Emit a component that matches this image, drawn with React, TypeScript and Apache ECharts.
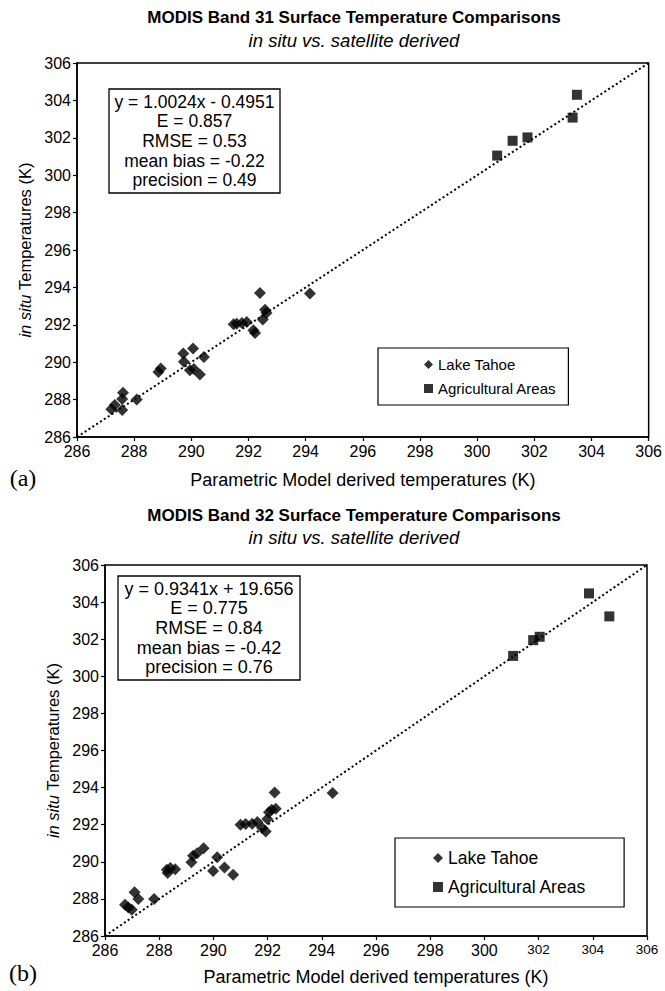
import React, { useEffect, useRef } from 'react';
import * as echarts from 'echarts';

const FONT = '"Liberation Sans", Arial, Helvetica, sans-serif';
const SERIF = '"Liberation Serif", "Times New Roman", serif';

// axis range
const axisMin = 286;
const axisMax = 306;
const axisStep = 2;
const oneToOne = [286, 306];

// texts
const titleB31 = 'MODIS Band 31 Surface Temperature Comparisons';
const titleB32 = 'MODIS Band 32 Surface Temperature Comparisons';
const subTitle = 'in situ vs. satellite derived';
const xAxisName = 'Parametric Model derived temperatures (K)';
const yAxisName = '{i|in situ} Temperatures (K)';
const seriesNames = ['Lake Tahoe', 'Agricultural Areas'];
const panelLabels = ['(a)', '(b)'];
const statsB31 = ['y = 1.0024x - 0.4951', 'E = 0.857', 'RMSE = 0.53', 'mean bias = -0.22', 'precision = 0.49'];
const statsB32 = ['y = 0.9341x + 19.656', 'E = 0.775', 'RMSE = 0.84', 'mean bias = -0.42', 'precision = 0.76'];

// Band 31 data
const lakeX31 = [287.2, 287.32, 287.61, 287.58, 287.58, 288.09, 288.85, 288.93, 289.72, 289.74, 290.06, 289.95, 290.09, 290.3, 290.44, 291.48, 291.59, 291.77, 291.94, 292.17, 292.23, 292.4, 292.58, 292.63, 292.5, 294.15];
const lakeY31 = [287.48, 287.71, 288.36, 288.03, 287.44, 288.01, 289.48, 289.66, 290.46, 290.02, 290.73, 289.57, 289.63, 289.34, 290.28, 292.03, 292.06, 292.1, 292.15, 291.71, 291.56, 293.7, 292.81, 292.63, 292.28, 293.68];
const agriX31 = [300.7, 301.24, 301.76, 303.34, 303.49];
const agriY31 = [301.05, 301.84, 302.02, 303.08, 304.3];

// Band 32 data
const lakeX32 = [286.74, 286.86, 286.99, 287.09, 287.23, 287.81, 288.28, 288.31, 288.41, 288.59, 289.19, 289.25, 289.4, 289.64, 289.99, 290.14, 290.41, 290.73, 291.0, 291.19, 291.43, 291.62, 291.8, 291.93, 291.99, 292.05, 292.15, 292.3, 292.26, 294.4];
const lakeY32 = [287.68, 287.53, 287.41, 288.36, 288.0, 288.0, 289.57, 289.39, 289.66, 289.6, 289.98, 290.32, 290.46, 290.73, 289.51, 290.25, 289.69, 289.3, 292.0, 292.04, 292.05, 292.14, 291.82, 291.63, 292.31, 292.67, 292.81, 292.86, 293.74, 293.71];
const agriX32 = [301.06, 301.8, 302.04, 303.86, 304.61];
const agriY32 = [301.1, 301.95, 302.13, 304.47, 303.23];

const zip = (xs: number[], ys: number[]) => xs.map((x, i) => [x, ys[i]]);

function buildOption() {
  const axisLine = { lineStyle: { color: '#000', width: 1.5 } };
  const axisTick = { show: true, inside: false, length: 4, lineStyle: { color: '#000', width: 1.2 } };
  const xAxis = (gridIndex: number, nameGap: number, nameSize: number, smallHigh: boolean) => ({
    type: 'value',
    gridIndex,
    min: axisMin,
    max: axisMax,
    interval: axisStep,
    axisLine,
    axisTick,
    splitLine: { show: false },
    axisLabel: {
      color: '#000',
      fontFamily: FONT,
      fontSize: 16,
      margin: 6,
      formatter: (v: number) => (smallHigh && v >= 302 ? `{s|${v}}` : `${v}`),
      rich: { s: { fontSize: 13.5, fontFamily: FONT, color: '#000' } },
    },
    name: xAxisName,
    nameLocation: 'middle',
    nameGap,
    nameTextStyle: { color: '#000', fontFamily: FONT, fontSize: nameSize },
  });
  const yAxis = (gridIndex: number, nameGap: number) => ({
    type: 'value',
    gridIndex,
    min: axisMin,
    max: axisMax,
    interval: axisStep,
    axisLine,
    axisTick,
    splitLine: { show: false },
    axisLabel: { color: '#000', fontFamily: FONT, fontSize: 16, margin: 6 },
    name: yAxisName,
    nameLocation: 'middle',
    nameGap,
    nameRotate: 90,
    nameTextStyle: {
      color: '#000',
      fontFamily: FONT,
      fontSize: 16.5,
      rich: { i: { fontStyle: 'italic', fontFamily: FONT, fontSize: 16.5, color: '#000' } },
    },
  });
  const lake = (idx: number, data: number[][]) => ({
    type: 'scatter',
    name: seriesNames[0],
    xAxisIndex: idx,
    yAxisIndex: idx,
    symbol: 'diamond',
    symbolSize: 12,
    itemStyle: { color: '#000' },
    data,
    z: 3,
  });
  const agri = (idx: number, data: number[][]) => ({
    type: 'scatter',
    name: seriesNames[1],
    xAxisIndex: idx,
    yAxisIndex: idx,
    symbol: 'rect',
    symbolSize: 10,
    itemStyle: { color: '#000' },
    data,
    z: 3,
  });
  const diag = (idx: number) => ({
    type: 'line',
    name: '1:1',
    xAxisIndex: idx,
    yAxisIndex: idx,
    symbol: 'none',
    lineStyle: { color: '#000', width: 2, type: [2, 2.6] },
    data: zip(oneToOne, oneToOne),
    z: 2,
    silent: true,
  });
  const legend = (left: number, top: number, padding: number[], fontSize: number, icon: number, gap: number) => ({
    left,
    top,
    orient: 'vertical',
    padding,
    itemGap: gap,
    itemWidth: icon,
    itemHeight: icon,
    selectedMode: false,
    borderColor: '#000',
    borderWidth: 1.2,
    backgroundColor: '#fff',
    textStyle: { color: '#000', fontFamily: FONT, fontSize },
    data: seriesNames,
  });
  const text = (t: string, x: number, y: number, font: string, extra: any = {}) => ({
    type: 'text',
    z: 10,
    style: {
      text: t,
      x,
      y,
      font,
      fill: '#000',
      textAlign: 'center',
      textVerticalAlign: 'middle',
      align: 'center',
      verticalAlign: 'middle',
      ...extra,
    },
  });
  const statsBox = (x: number, y: number, w: number, h: number, lines: string[], size: number) => [
    {
      type: 'rect',
      z: 10,
      shape: { x, y, width: w, height: h },
      style: { fill: '#fff', stroke: '#000', lineWidth: 1.3 },
    },
    text(lines.join('\n'), x + w / 2, y + h / 2, `${size}px ${FONT}`, { lineHeight: 19.6 }),
  ];

  return {
    animation: false,
    backgroundColor: '#fff',
    grid: [
      { left: 77, top: 63, width: 578, height: 374, show: true, borderColor: '#000', borderWidth: 1.5, backgroundColor: 'transparent' },
      { left: 105, top: 565, width: 542, height: 371, show: true, borderColor: '#000', borderWidth: 1.5, backgroundColor: 'transparent' },
    ],
    xAxis: [xAxis(0, 34, 18, false), xAxis(1, 32, 18, true)],
    yAxis: [yAxis(0, 43), yAxis(1, 44)],
    legend: [
      legend(378, 348, [9, 12, 9, 46], 15, 9, 9),
      legend(395, 838, [11, 38, 11, 38], 17.5, 10, 11),
    ],
    series: [
      diag(0),
      lake(0, zip(lakeX31, lakeY31)),
      agri(0, zip(agriX31, agriY31)),
      diag(1),
      lake(1, zip(lakeX32, lakeY32)),
      agri(1, zip(agriX32, agriY32)),
    ],
    graphic: [
      text(titleB31, 354, 17, `bold 17px ${FONT}`),
      text(subTitle, 354, 40, `italic 18.5px ${FONT}`),
      text(panelLabels[0], 23, 478, `24px ${SERIF}`),
      text(titleB32, 354, 515, `bold 17px ${FONT}`),
      text(subTitle, 354, 537, `italic 18.5px ${FONT}`),
      text(panelLabels[1], 23, 973, `24px ${SERIF}`),
      ...statsBox(109, 89, 171, 104, statsB31, 17.5),
      ...statsBox(118, 576, 182, 104, statsB32, 18),
    ],
  };
}

export default function App() {
  const ref = useRef<HTMLDivElement>(null);
  useEffect(() => {
    if (!ref.current) return;
    const chart = echarts.init(ref.current, undefined, { renderer: 'svg' });
    chart.setOption(buildOption() as any);
    return () => chart.dispose();
  }, []);
  return (
    <div
      ref={ref}
      style={{ position: 'absolute', left: 0, top: 0, width: 665, height: 991, background: '#fff' }}
    />
  );
}
